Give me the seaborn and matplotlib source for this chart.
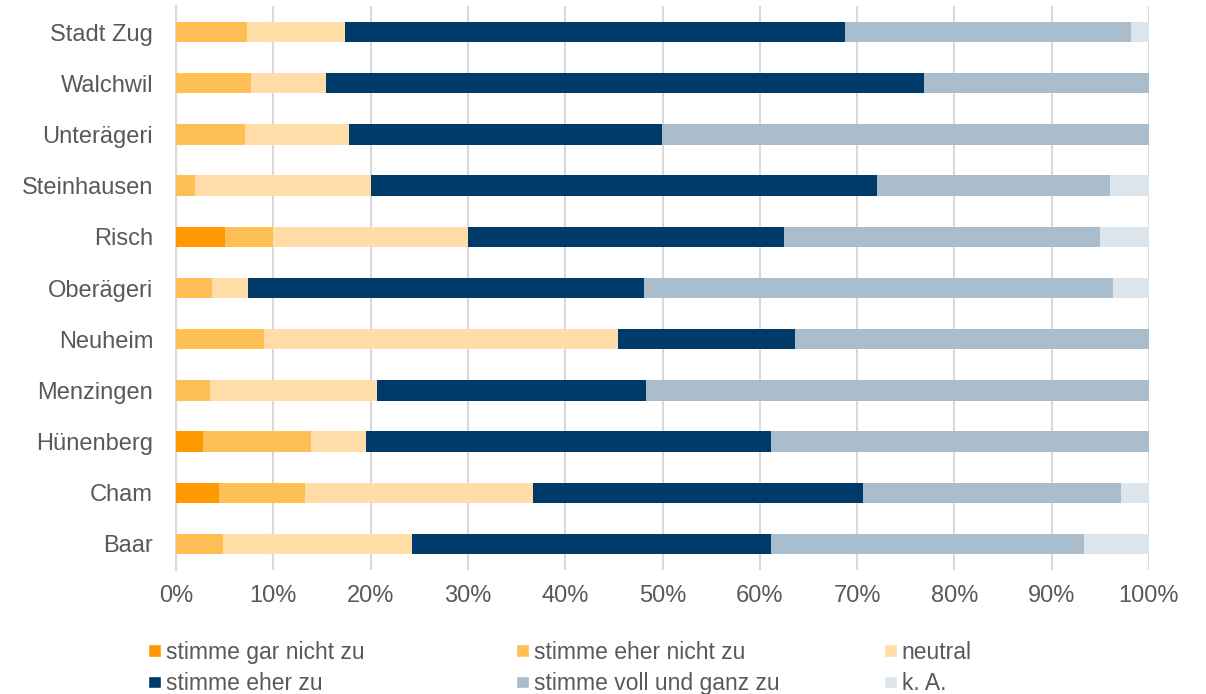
import seaborn as sns
import matplotlib.pyplot as plt
import pandas as pd
import numpy as np
from matplotlib.patches import Patch

gemeinden = ["Stadt Zug", "Walchwil", "Unterägeri", "Steinhausen", "Risch",
             "Oberägeri", "Neuheim", "Menzingen", "Hünenberg", "Cham", "Baar"]

kategorien = ["stimme gar nicht zu", "stimme eher nicht zu", "neutral",
              "stimme eher zu", "stimme voll und ganz zu", "k. A."]

# shares in percent, one list per answer category (same order as gemeinden)
gar_nicht   = [0.0, 0.0, 0.0, 0.0, 5.0, 0.0, 0.0, 0.0, 2.8, 4.4, 0.0]
eher_nicht  = [7.3, 7.7, 7.1, 2.0, 5.0, 3.7, 9.1, 3.5, 11.1, 8.8, 4.8]
neutral     = [10.1, 7.7, 10.7, 18.0, 20.0, 3.7, 36.4, 17.2, 5.6, 23.5, 19.5]
eher_zu     = [51.4, 61.5, 32.1, 52.0, 32.5, 40.7, 18.2, 27.6, 41.7, 33.8, 36.9]
voll_ganz   = [29.4, 23.1, 50.0, 24.0, 32.5, 48.2, 36.4, 51.7, 38.9, 26.5, 32.1]
keine_angabe = [1.8, 0.0, 0.0, 4.0, 5.0, 3.7, 0.0, 0.0, 0.0, 2.9, 6.7]

farben = ["#FF9900", "#FFBF57", "#FFDCA8", "#003A69", "#AABDCD", "#DCE4EC"]

sns.set_theme(style="white")
plt.rcParams['font.family'] = ['Liberation Sans', 'DejaVu Sans']

df = pd.DataFrame({"gemeinde": gemeinden})
serien = [gar_nicht, eher_nicht, neutral, eher_zu, voll_ganz, keine_angabe]
for name, werte in zip(kategorien, serien):
    df[name] = werte

# normalise each row to 100 and build cumulative sums for stacking
werte = df[kategorien].values
werte = werte / werte.sum(axis=1, keepdims=True) * 100
kum = np.cumsum(werte, axis=1)

fig = plt.figure(figsize=(12.06, 6.94), dpi=100)
ax = fig.add_axes([176 / 1206, 1 - 569.6 / 694, 973 / 1206, 563.2 / 694])

# draw from the outermost cumulative bar inward so the inner ones sit on top
for i in range(len(kategorien) - 1, -1, -1):
    sns.barplot(x=kum[:, i], y=df["gemeinde"], orient="h", color=farben[i],
                width=0.4, saturation=1, ax=ax, zorder=3, linewidth=0)

ax.set_xlim(0, 100)
ax.set_ylim(10.5, -0.5)
ax.set_xticks(np.arange(0, 101, 10))
ax.set_xticklabels([f"{t}%" for t in range(0, 101, 10)])
ax.xaxis.grid(True, color="#D9D9D9", linewidth=1.5, zorder=0)
ax.set_axisbelow(True)
for s in ["top", "right", "bottom"]:
    ax.spines[s].set_visible(False)
ax.spines["left"].set_color("#D9D9D9")
ax.spines["left"].set_linewidth(1.5)
ax.set_xlabel("")
ax.set_ylabel("")
ax.tick_params(axis="both", length=0, labelsize=17, labelcolor="#595959")
ax.tick_params(axis="x", pad=11)
ax.tick_params(axis="y", pad=16.5)

# legend in three columns, two rows
spalten = [(0, 3), (1, 4), (2, 5)]
xpos = [147.5 / 1206, 515.5 / 1206, 883.5 / 1206]
for (a, b), x in zip(spalten, xpos):
    handles = [Patch(facecolor=farben[a], label=kategorien[a]),
               Patch(facecolor=farben[b], label=kategorien[b])]
    fig.legend(handles=handles, loc="upper left", bbox_to_anchor=(x, 1 - 641 / 694),
               frameon=False, fontsize=16.5, handlelength=0.57, handleheight=0.48,
               handletextpad=0.22, labelspacing=0.36, borderaxespad=0,
               borderpad=0, labelcolor="#595959")

fig.savefig("out.png", dpi=100)
